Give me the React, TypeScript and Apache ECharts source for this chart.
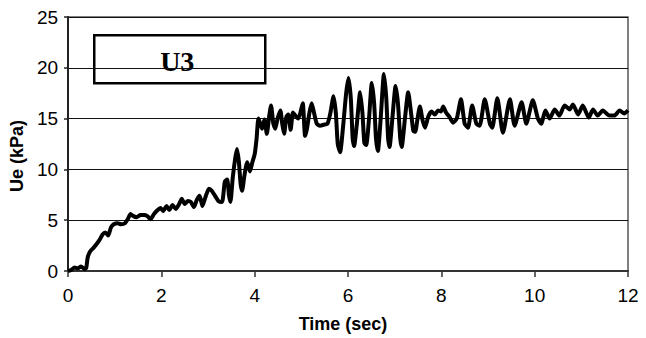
import React, { useEffect, useRef } from "react";
import * as echarts from "echarts";

const timeSec: number[] = [
  0, 0.07, 0.14, 0.21, 0.28, 0.35, 0.39, 0.42, 0.47, 0.55, 0.62, 0.68, 0.74, 0.8, 0.86, 0.92, 0.98,
  1.06, 1.14, 1.22, 1.28, 1.34, 1.4, 1.47, 1.55, 1.63, 1.7, 1.77, 1.84, 1.92, 1.98,
  2.04, 2.11, 2.17, 2.24, 2.31, 2.37, 2.44, 2.5, 2.57, 2.63, 2.7, 2.76, 2.82, 2.88, 2.94,
  3.02, 3.08, 3.15, 3.22, 3.3, 3.36, 3.41, 3.45, 3.48, 3.53, 3.58, 3.62, 3.66, 3.7, 3.73, 3.78, 3.84, 3.9, 3.95,
  4.0, 4.04, 4.08, 4.12, 4.16, 4.21, 4.26, 4.31, 4.35, 4.4, 4.44, 4.49, 4.55, 4.59, 4.63, 4.68, 4.72, 4.77, 4.82, 4.87, 4.93, 4.98,
  5.03, 5.08, 5.12, 5.17, 5.22, 5.27, 5.33, 5.4, 5.48, 5.56, 5.62, 5.69, 5.74, 5.78, 5.83, 5.9, 5.96,
  6.01, 6.06, 6.1, 6.13, 6.19, 6.26, 6.31, 6.35, 6.39, 6.45, 6.51, 6.56, 6.6, 6.64, 6.7, 6.77, 6.82, 6.86, 6.89, 6.95,
  7.02, 7.07, 7.12, 7.15, 7.22, 7.29, 7.34, 7.4, 7.44, 7.49, 7.54, 7.6, 7.65, 7.72, 7.79, 7.86, 7.93, 7.99,
  8.04, 8.1, 8.17, 8.25, 8.33, 8.42, 8.5, 8.57, 8.66, 8.75, 8.82, 8.93,
  9.04, 9.09, 9.2, 9.32, 9.47, 9.57, 9.72, 9.82, 9.96,
  10.07, 10.14, 10.23, 10.32, 10.43, 10.53, 10.64, 10.75, 10.82, 10.93,
  11.03, 11.16, 11.25, 11.35, 11.46, 11.6, 11.71, 11.82, 11.92, 12.0,
];

const ueKPa: number[] = [
  0, 0.1, 0.35, 0.25, 0.45, 0.2, 0.3, 1.3, 1.9, 2.3, 2.7, 3.1, 3.6, 3.8, 3.5, 4.3, 4.6,
  4.7, 4.6, 4.7, 5.1, 5.6, 5.4, 5.3, 5.5, 5.5, 5.4, 5.1, 5.6, 6.0, 6.2,
  5.9, 6.4, 6.0, 6.5, 6.1, 6.5, 7.1, 6.6, 6.9, 6.8, 6.3, 7.0, 7.4, 6.4, 7.2,
  8.1, 7.9, 7.4, 6.9, 6.8, 8.8, 9.0, 7.4, 6.8, 9.2, 11.0, 12.0, 10.8, 8.5, 7.9, 9.4, 10.7, 9.8, 10.7,
  11.5, 13.0, 15.0, 14.5, 14.0, 14.9, 13.5, 15.2, 16.3, 14.5, 14.0, 15.0, 15.8, 14.5, 13.5, 15.2, 15.4, 13.9, 15.6, 15.3, 15.0, 15.6,
  16.5, 13.3, 14.0, 15.5, 16.5, 15.6, 14.5, 14.3, 14.4, 14.5, 15.5, 17.2, 15.5, 12.5, 11.7, 14.5, 17.5,
  19.0, 17.0, 13.0, 12.3, 14.5, 17.6, 15.5, 12.6, 12.4, 15.0, 18.5, 16.5, 13.0, 11.8, 15.0, 19.4, 17.0, 13.0, 12.2, 15.0,
  18.2, 16.5, 13.0, 12.2, 15.0, 17.6, 16.0, 13.8, 13.7, 15.0, 16.2, 14.8, 14.1, 15.2, 15.7, 15.4, 15.8, 15.7,
  16.2, 15.6, 15.2, 14.6, 15.0, 16.9, 14.5, 14.1, 16.3, 14.5, 14.3, 16.9,
  14.5, 14.1, 17.0, 13.6, 16.9, 14.3, 16.6, 14.5, 16.8,
  15.0, 14.5, 15.8, 15.0, 15.9, 15.3, 16.3, 15.9, 16.4, 15.4,
  16.3, 15.1, 15.9, 15.3, 15.8, 15.3, 15.3, 15.8, 15.5, 15.8,
];

const xTicks: number[] = [0, 2, 4, 6, 8, 10, 12];
const yTicks: number[] = [0, 5, 10, 15, 20, 25];
const panelLabel = "U3";
const xName = "Time (sec)";
const yName = "Ue (kPa)";

export default function App() {
  const ref = useRef<HTMLDivElement>(null);
  useEffect(() => {
    if (!ref.current) return;
    const chart = echarts.init(ref.current, null, { renderer: "svg" });
    const data = timeSec.map((t, i) => [t, ueKPa[i]]);
    chart.setOption({
      animation: false,
      backgroundColor: "#ffffff",
      grid: {
        left: 67,
        right: 18,
        top: 17,
        bottom: 66,
        show: true,
        borderColor: "#555",
        borderWidth: 1.5,
        backgroundColor: "transparent",
      },
      xAxis: {
        type: "value",
        min: xTicks[0],
        max: xTicks[xTicks.length - 1],
        interval: 2,
        name: xName,
        nameLocation: "middle",
        nameGap: 44,
        nameTextStyle: {
          fontFamily: "Liberation Sans, Arial, sans-serif",
          fontWeight: "bold",
          fontSize: 18,
          color: "#000",
          padding: [0, 10, 0, 0],
        },
        axisLine: { show: true, lineStyle: { color: "#333", width: 2 } },
        axisTick: { show: true, length: 6, lineStyle: { color: "#333", width: 1.5 } },
        axisLabel: {
          margin: 15,
          fontFamily: "Liberation Sans, Arial, sans-serif",
          fontSize: 19,
          color: "#000",
        },
        splitLine: { show: false },
      },
      yAxis: {
        type: "value",
        min: yTicks[0],
        max: yTicks[yTicks.length - 1],
        interval: 5,
        name: yName,
        nameLocation: "middle",
        nameGap: 37,
        nameRotate: 90,
        nameTextStyle: {
          fontFamily: "Liberation Sans, Arial, sans-serif",
          fontWeight: "bold",
          fontSize: 18,
          color: "#000",
          padding: [0, 24, 0, 0],
        },
        axisLine: { show: true, lineStyle: { color: "#222", width: 2 } },
        axisTick: { show: true, length: 4, lineStyle: { color: "#222", width: 1.5 } },
        axisLabel: {
          margin: 10,
          fontFamily: "Liberation Sans, Arial, sans-serif",
          fontSize: 19,
          color: "#000",
        },
        splitLine: { show: true, lineStyle: { color: "#111", width: 1 } },
      },
      series: [
        {
          type: "line",
          data,
          showSymbol: false,
          smooth: 0.2,
          lineStyle: { color: "#000", width: 4 },
          clip: true,
          z: 3,
        },
      ],
      graphic: [
        {
          type: "group",
          left: 93,
          top: 34,
          z: 10,
          children: [
            {
              type: "rect",
              shape: { x: 0, y: 0, width: 171, height: 48 },
              style: { fill: "#fff", stroke: "#000", lineWidth: 2.5 },
            },
            {
              type: "text",
              x: 83,
              y: 26,
              style: {
                text: panelLabel,
                fill: "#000",
                font: "bold 28px 'Liberation Serif', 'Times New Roman', serif",
                align: "center",
                verticalAlign: "middle",
              },
            },
          ],
        },
      ],
    });
    return () => chart.dispose();
  }, []);
  return <div ref={ref} style={{ width: 646, height: 338, position: "absolute", left: 0, top: 0 }} />;
}
